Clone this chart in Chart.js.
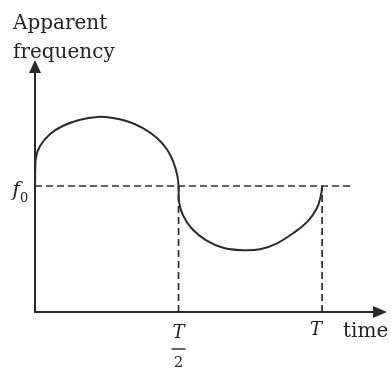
<!DOCTYPE html>
<html>
<head>
<meta charset="utf-8">
<script src="https://cdn.jsdelivr.net/npm/chart.js@4.4.1/dist/chart.umd.min.js"></script>
<style>
  html, body { margin: 0; padding: 0; background: #fff; }
  #wrap { width: 391px; height: 378px; }
</style>
</head>
<body>
<div id="wrap"><canvas id="dopplerChart" width="391" height="378"></canvas></div>
<script>
// time in units of the period T, frequency in units of f0
const curveTime = [0, 0.002, 0.017, 0.052, 0.098, 0.157, 0.216, 0.265, 0.321, 0.376,
                   0.425, 0.46, 0.482, 0.495, 0.5, 0.502, 0.516, 0.546, 0.595, 0.655,
                   0.725, 0.784, 0.843, 0.899, 0.948, 0.982, 0.997, 1.0];
const curveFreq = [1.0, 1.21, 1.315, 1.41, 1.478, 1.526, 1.548, 1.542, 1.514, 1.46,
                   1.381, 1.29, 1.19, 1.09, 1.0, 0.87, 0.765, 0.663, 0.57, 0.51,
                   0.49, 0.498, 0.545, 0.625, 0.715, 0.825, 0.94, 1.0];

const f0 = 1.0;
const halfPeriod = 0.5;
const period = 1.0;
const f0LineEnd = 1.098;   // how far the dashed f0 line runs
const xMax = 1.226;
const yMax = 2.0;

const ink = '#2a2a2a';

const toPoints = (xs, ys) => xs.map((x, i) => ({ x: x, y: ys[i] }));

// axes with arrowheads plus the hand-placed labels
const sketchAxes = {
    id: 'sketchAxes',
    beforeDatasetsDraw(chart) {
        const { ctx, scales: { x, y } } = chart;
        const x0 = x.getPixelForValue(0);
        const y0 = y.getPixelForValue(0);
        const xEnd = x.getPixelForValue(xMax);
        const yEnd = y.getPixelForValue(yMax);

        ctx.save();
        ctx.strokeStyle = ink;
        ctx.fillStyle = ink;
        ctx.lineWidth = 2;
        ctx.beginPath();
        ctx.moveTo(x0, y0);
        ctx.lineTo(x0, yEnd + 8);
        ctx.moveTo(x0 - 1, y0);
        ctx.lineTo(xEnd - 8, y0);
        ctx.stroke();

        // arrow heads
        ctx.beginPath();
        ctx.moveTo(x0, yEnd);
        ctx.lineTo(x0 - 6, yEnd + 13);
        ctx.lineTo(x0 + 6, yEnd + 13);
        ctx.closePath();
        ctx.fill();
        ctx.beginPath();
        ctx.moveTo(xEnd, y0);
        ctx.lineTo(xEnd - 14, y0 - 6);
        ctx.lineTo(xEnd - 14, y0 + 6);
        ctx.closePath();
        ctx.fill();
        ctx.restore();
    },
    afterDraw(chart) {
        const { ctx, scales: { x, y } } = chart;
        const x0 = x.getPixelForValue(0);
        const y0 = y.getPixelForValue(0);
        const yf = y.getPixelForValue(f0);
        const xh = x.getPixelForValue(halfPeriod);
        const xT = x.getPixelForValue(period);

        ctx.save();
        ctx.fillStyle = '#222';
        ctx.textBaseline = 'alphabetic';

        ctx.font = '20px "DejaVu Serif"';
        ctx.textAlign = 'left';
        ctx.fillText('Apparent', 13, 29);
        ctx.fillText('frequency', 13, 58);
        ctx.fillText('time', 343, y0 + 25);

        // f0 label
        ctx.font = 'italic 20px "DejaVu Serif"';
        ctx.textAlign = 'right';
        ctx.fillText('f', x0 - 15, yf + 10);
        ctx.font = '13px "DejaVu Serif"';
        ctx.textAlign = 'left';
        ctx.fillText('0', x0 - 15, yf + 16);

        // T/2 and T under the axis
        ctx.font = 'italic 18px "DejaVu Serif"';
        ctx.textAlign = 'center';
        ctx.fillText('T', xh, y0 + 26);
        ctx.fillText('T', xT - 6, y0 + 23);
        ctx.font = '15px "DejaVu Serif"';
        ctx.fillText('2', xh, y0 + 55);
        ctx.strokeStyle = '#333';
        ctx.lineWidth = 1.5;
        ctx.beginPath();
        ctx.moveTo(xh - 7, y0 + 37);
        ctx.lineTo(xh + 7, y0 + 37);
        ctx.stroke();
        ctx.restore();
    }
};

const dashed = {
    borderColor: '#2e2e2e',
    borderWidth: 1.7,
    borderDash: [7, 4],
    pointRadius: 0,
    fill: false,
    tension: 0
};

new Chart(document.getElementById('dopplerChart'), {
    type: 'line',
    data: {
        datasets: [
            { ...dashed, data: [{ x: 0, y: f0 }, { x: f0LineEnd, y: f0 }] },
            { ...dashed, data: [{ x: halfPeriod, y: 0 }, { x: halfPeriod, y: f0 }] },
            { ...dashed, data: [{ x: period, y: 0 }, { x: period, y: f0 }] },
            {
                data: toPoints(curveTime, curveFreq),
                borderColor: ink,
                borderWidth: 2,
                pointRadius: 0,
                fill: false,
                tension: 0.4
            }
        ]
    },
    options: {
        responsive: false,
        animation: false,
        devicePixelRatio: 1,
        layout: { padding: { left: 35, right: 4, top: 60, bottom: 66 } },
        plugins: {
            legend: { display: false },
            tooltip: { enabled: false }
        },
        scales: {
            x: { type: 'linear', min: 0, max: xMax, display: false },
            y: { type: 'linear', min: 0, max: yMax, display: false }
        }
    },
    plugins: [sketchAxes]
});
</script>
</body>
</html>
